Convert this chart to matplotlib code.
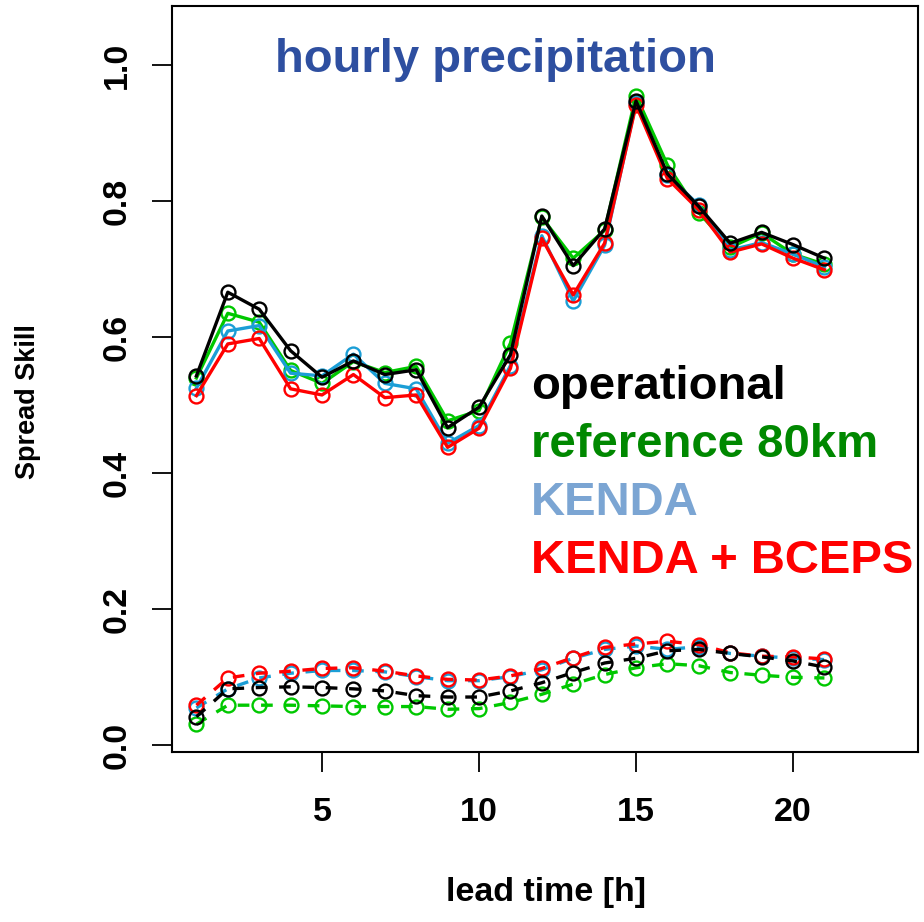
import numpy as np
import matplotlib.pyplot as plt

# lead time in hours
lead = np.arange(1, 22)

# spread skill ratio (solid) for the four experiments
spread_oper = [0.543, 0.666, 0.641, 0.580, 0.541, 0.565, 0.545, 0.552, 0.467, 0.497, 0.574,
               0.778, 0.705, 0.759, 0.947, 0.840, 0.792, 0.738, 0.754, 0.736, 0.716]
spread_ref = [0.540, 0.635, 0.622, 0.551, 0.532, 0.564, 0.548, 0.557, 0.477, 0.492, 0.591,
              0.776, 0.716, 0.757, 0.955, 0.853, 0.783, 0.732, 0.753, 0.722, 0.707]
spread_kenda = [0.525, 0.609, 0.617, 0.547, 0.543, 0.575, 0.532, 0.524, 0.444, 0.470, 0.558,
                0.749, 0.653, 0.735, 0.944, 0.838, 0.794, 0.728, 0.739, 0.722, 0.703]
spread_bceps = [0.514, 0.590, 0.598, 0.524, 0.515, 0.545, 0.511, 0.515, 0.438, 0.466, 0.554,
                0.745, 0.662, 0.738, 0.941, 0.833, 0.787, 0.725, 0.737, 0.716, 0.699]

# lower (dashed) curves
low_oper = [0.042, 0.083, 0.085, 0.086, 0.085, 0.083, 0.080, 0.073, 0.071, 0.071, 0.080,
            0.092, 0.107, 0.121, 0.128, 0.139, 0.141, 0.135, 0.130, 0.124, 0.115]
low_ref = [0.031, 0.059, 0.059, 0.059, 0.058, 0.057, 0.057, 0.057, 0.053, 0.054, 0.063,
           0.075, 0.090, 0.104, 0.114, 0.120, 0.117, 0.107, 0.103, 0.100, 0.099]
low_kenda = [0.055, 0.083, 0.099, 0.106, 0.110, 0.110, 0.108, 0.101, 0.095, 0.095, 0.101,
             0.111, 0.128, 0.141, 0.146, 0.141, 0.145, 0.135, 0.131, 0.128, 0.126]
low_bceps = [0.059, 0.099, 0.106, 0.109, 0.113, 0.114, 0.109, 0.102, 0.097, 0.096, 0.102,
             0.113, 0.129, 0.144, 0.149, 0.153, 0.148, 0.136, 0.131, 0.130, 0.127]

labels = ["operational", "reference 80km", "KENDA", "KENDA + BCEPS"]
label_cols = ["black", "#008800", "#7BA5D3", "#FF0000"]

line_cols = {"oper": "black", "ref": "#00C800", "kenda": "#1B9ED6", "bceps": "#FF0000"}

plt.rcParams['font.family'] = ['Liberation Sans', 'DejaVu Sans']

fig = plt.figure(figsize=(9.24, 9.22), dpi=100)
ax = fig.add_axes([172/924, 1-752/922, (918-172)/924, (752-6)/922])

kw = dict(marker="o", markersize=10, markerfacecolor="none", markeredgewidth=1.7, linewidth=2.4)
for key, ys in [("ref", spread_ref), ("kenda", spread_kenda), ("bceps", spread_bceps), ("oper", spread_oper)]:
    ax.plot(lead, ys, color=line_cols[key], markeredgecolor=line_cols[key], **kw)
for key, ys in [("ref", low_ref), ("kenda", low_kenda), ("bceps", low_bceps), ("oper", low_oper)]:
    ax.plot(lead, ys, color=line_cols[key], markeredgecolor=line_cols[key],
            linestyle=(0, (3.5, 3.5)), **kw)

ax.set_xlim(0.223, 23.98)
ax.set_ylim(-0.0098, 1.0867)
ax.set_xticks([5, 10, 15, 20])
ax.set_xticklabels(["5", "10", "15", "20"], fontweight="bold", fontsize=24.5)
ax.set_yticks(np.arange(0, 1.01, 0.2))
ax.set_yticklabels(["%.1f" % v for v in np.arange(0, 1.01, 0.2)], rotation=90, va="center",
                   fontweight="bold", fontsize=24.5)
for s in ax.spines.values():
    s.set_linewidth(1.5)
ax.tick_params(axis="both", length=14.4, width=1.3)
ax.tick_params(axis="x", pad=18)
ax.tick_params(axis="y", pad=14)

fig.text(546/924, 1-901/922, "lead time [h]", ha="center", va="baseline", fontsize=24.5,
         fontweight="bold")
fig.text(28/924, 1-402/922, "Spread Skill", ha="center", va="center", rotation=90, fontsize=19.5,
         fontweight="bold")

ax.text(495/924, 1-60/922, "hourly precipitation", transform=fig.transFigure, ha="center",
        va="center", fontsize=34, fontweight="bold", color="#2E4FA0")

for i, (lab, c) in enumerate(zip(labels, label_cols)):
    fig.text(531/924, 1-(399+58*i)/922, lab, ha="left", va="baseline", fontsize=34,
             fontweight="bold", color=c)

fig.savefig("out.png", dpi=100)
